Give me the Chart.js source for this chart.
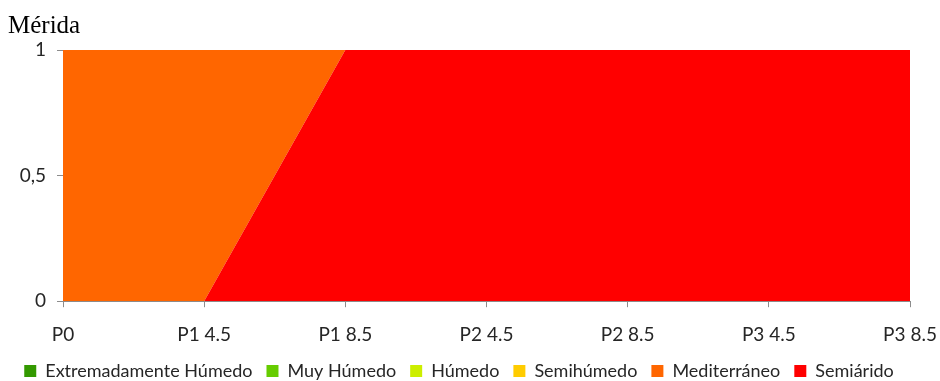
<!DOCTYPE html>
<html>
<head>
<meta charset="utf-8">
<script src="https://cdn.jsdelivr.net/npm/chart.js@4/dist/chart.umd.min.js"></script>
<style>
  html, body { margin: 0; padding: 0; background: #fff; }
  #wrap { width: 940px; height: 381px; position: relative; }
</style>
</head>
<body>
<div id="wrap"><canvas id="c"></canvas></div>
<script>
// Categories along the horizontal axis
const periods = ['P0', 'P1 4.5', 'P1 8.5', 'P2 4.5', 'P2 8.5', 'P3 4.5', 'P3 8.5'];

// Share of each climate class per period
const extremadamenteHumedo = [0, 0, 0, 0, 0, 0, 0];
const muyHumedo            = [0, 0, 0, 0, 0, 0, 0];
const humedo               = [0, 0, 0, 0, 0, 0, 0];
const semihumedo           = [0, 0, 0, 0, 0, 0, 0];
const mediterraneo         = [1, 1, 0, 0, 0, 0, 0];
const semiarido            = [0, 0, 1, 1, 1, 1, 1];

const yTicks = [0, 0.5, 1];

const axisGray = '#8c8c8c';
const textColor = '#262626';
const sans = 'Lato, "Open Sans", sans-serif';

function area(label, data, color) {
  return {
    label, data,
    backgroundColor: color,
    borderColor: color,
    borderWidth: 0,
    pointRadius: 0,
    pointHoverRadius: 0,
    tension: 0,
    fill: '-1'
  };
}

// Stacked from the ground up: Semiárido lowest, wetter classes above
const datasets = [
  area('Semiárido', semiarido, '#ff0000'),
  area('Mediterráneo', mediterraneo, '#ff6600'),
  area('Semihúmedo', semihumedo, '#ffcc00'),
  area('Húmedo', humedo, '#ccee00'),
  area('Muy Húmedo', muyHumedo, '#66cc00'),
  area('Extremadamente Húmedo', extremadamenteHumedo, '#339900')
];
datasets[0].fill = 'origin';

new Chart(document.getElementById('c'), {
  type: 'line',
  data: { labels: periods, datasets },
  options: {
    responsive: true,
    maintainAspectRatio: false,
    animation: false,
    layout: { padding: { left: 8, right: 30, top: 4, bottom: -9 } },
    plugins: {
      title: {
        display: true,
        text: 'Mérida',
        align: 'start',
        color: '#000',
        font: { family: '"Liberation Serif", "Times New Roman", serif', size: 25, weight: 'normal' },
        padding: { top: 7, bottom: 9 }
      },
      legend: {
        position: 'bottom',
        reverse: true,
        labels: {
          boxWidth: 12,
          boxHeight: 12,
          color: textColor,
          font: { family: sans, size: 18 },
          padding: 14
        }
      },
      tooltip: { enabled: false }
    },
    scales: {
      x: {
        offset: false,
        grid: { drawOnChartArea: false, drawTicks: true, tickLength: 6, color: axisGray },
        border: { display: true, color: axisGray, width: 1 },
        ticks: { color: textColor, font: { family: sans, size: 19 }, padding: 16, maxRotation: 0, autoSkip: false },
        afterFit(scale) { scale.paddingLeft = 0; scale.paddingRight = 0; scale.height -= 14; }
      },
      y: {
        stacked: true,
        min: 0,
        max: 1,
        afterBuildTicks(scale) { scale.ticks = yTicks.map(v => ({ value: v })); },
        grid: { drawOnChartArea: false, drawTicks: true, tickLength: 6, color: axisGray },
        border: { display: true, color: axisGray, width: 1 },
        ticks: {
          color: textColor,
          font: { family: sans, size: 19 },
          padding: 11,
          callback: v => String(v).replace('.', ',')
        },
        afterFit(scale) { scale.width = 55; }
      }
    }
  }
});
</script>
</body>
</html>
